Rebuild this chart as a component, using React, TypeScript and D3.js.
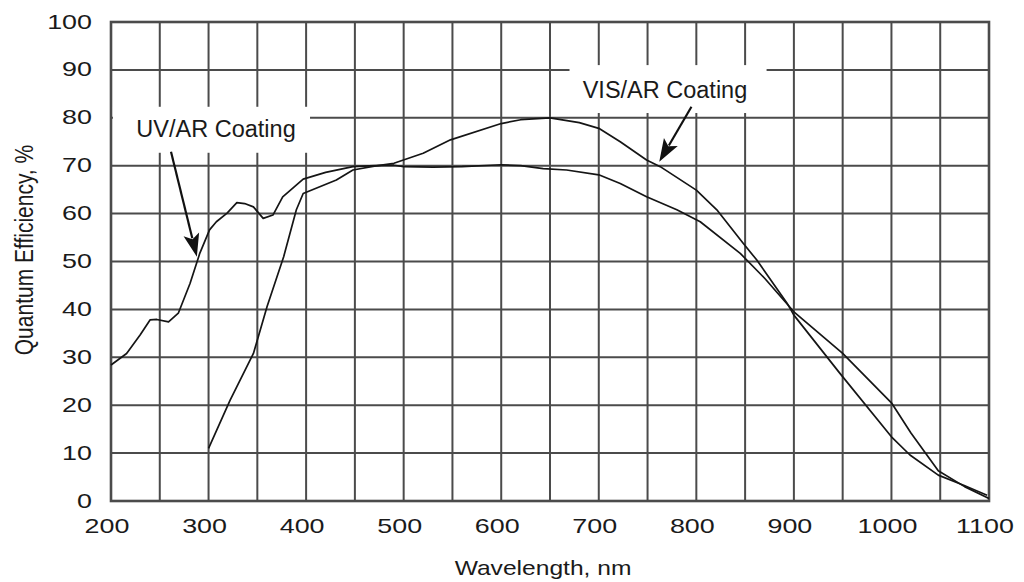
import React from "react";
import * as d3 from "d3";

// Quantum efficiency curves (wavelength in nm, QE in %)
const uvWavelength = [200, 216, 230, 240, 247, 259, 269, 281, 291, 301, 308, 319, 329, 337, 346, 356, 366, 376, 397, 420, 448, 470, 490, 500, 530, 560, 600, 620, 643, 667, 700, 722, 749, 780, 804, 845, 870, 900, 950, 1000, 1020, 1048, 1075, 1100];
const uvQE = [28.4, 30.8, 34.7, 37.8, 37.9, 37.4, 39.2, 45.4, 51.7, 56.6, 58.3, 60.1, 62.3, 62.1, 61.4, 59.0, 59.7, 63.5, 67.2, 68.6, 69.8, 70.0, 70.1, 69.8, 69.7, 69.8, 70.2, 70.0, 69.4, 69.1, 68.1, 66.3, 63.5, 60.8, 58.3, 51.7, 46.5, 39.5, 30.8, 20.5, 14.2, 6.3, 3.0, 0.5];

const visWavelength = [300, 322, 346, 360, 377, 390, 397, 431, 448, 470, 490, 520, 548, 600, 620, 650, 680, 700, 722, 749, 763, 800, 821, 848, 862, 893, 900, 947, 1000, 1019, 1048, 1074, 1098];
const visQE = [11.0, 21.0, 30.8, 40.6, 51.0, 60.8, 64.2, 67.0, 69.1, 69.9, 70.5, 72.6, 75.4, 78.8, 79.6, 80.0, 79.0, 77.8, 75.0, 71.2, 69.8, 64.9, 60.8, 53.8, 50.3, 41.3, 38.8, 26.7, 13.4, 9.6, 5.4, 3.3, 1.2];

const xTicks = [200, 300, 400, 500, 600, 700, 800, 900, 1000, 1100];
const yTicks = [0, 10, 20, 30, 40, 50, 60, 70, 80, 90, 100];
const xGrid = d3.range(200, 1101, 50);

const xTitle = "Wavelength, nm";
const yTitle = "Quantum Efficiency, %";

// Callouts: label box, text anchor and arrow, all in data units
const callouts = [
  { text: "UV/AR Coating", box: [202, 404, 72.7, 82.3], at: [226, 76.0], tail: [261.5, 72.9], tip: [288, 51.0] },
  { text: "VIS/AR Coating", box: [670, 872, 81, 91], at: [683.5, 84.1], tail: [795, 82.3], tip: [762, 70.8] },
];

const W = 1024;
const H = 582;

export default function App() {
  const x = d3.scaleLinear().domain([200, 1100]).range([111, 989]);
  const y = d3.scaleLinear().domain([0, 100]).range([501, 22]);

  const line = d3
    .line<[number, number]>()
    .x((d) => x(d[0]))
    .y((d) => y(d[1]))
    .curve(d3.curveLinear);

  const uvPath = line(uvWavelength.map((w, i) => [w, uvQE[i]]) as [number, number][]) || "";
  const visPath = line(visWavelength.map((w, i) => [w, visQE[i]]) as [number, number][]) || "";

  const gridColor = "#4b4b4b";
  const font = "'Liberation Sans', Arial, sans-serif";

  const arrow = (tail: number[], tip: number[], key: string) => {
    const x0 = x(tail[0]);
    const y0 = y(tail[1]);
    const x1 = x(tip[0]);
    const y1 = y(tip[1]);
    const dx = x1 - x0;
    const dy = y1 - y0;
    const len = Math.hypot(dx, dy);
    const ux = dx / len;
    const uy = dy / len;
    const headLen = 23;
    const half = 8;
    const bx = x1 - ux * headLen;
    const by = y1 - uy * headLen;
    const pts = [
      [x1, y1],
      [bx - uy * half, by + ux * half],
      [bx + ux * 5 , by + uy * 5],
      [bx + uy * half, by - ux * half],
    ];
    return (
      <g key={key}>
        <line x1={x0} y1={y0} x2={bx + ux * 4} y2={by + uy * 4} stroke="#111" strokeWidth={2.2} />
        <polygon points={pts.map((p) => p.join(",")).join(" ")} fill="#111" />
      </g>
    );
  };

  return (
    <svg
      width={W}
      height={H}
      viewBox={`0 0 ${W} ${H}`}
      style={{ position: "absolute", left: 0, top: 0, background: "#fff" }}
    >
      <rect x={0} y={0} width={W} height={H} fill="#fff" />

      {/* grid */}
      <g stroke={gridColor} strokeWidth={2}>
        {xGrid.map((w) => (
          <line key={`vx${w}`} x1={x(w)} x2={x(w)} y1={y(0)} y2={y(100)} />
        ))}
        {yTicks.map((v) => (
          <line key={`hy${v}`} x1={x(200)} x2={x(1100)} y1={y(v)} y2={y(v)} />
        ))}
      </g>
      <rect
        x={x(200)}
        y={y(100)}
        width={x(1100) - x(200)}
        height={y(0) - y(100)}
        fill="none"
        stroke={gridColor}
        strokeWidth={2.6}
      />

      {/* label backgrounds */}
      {callouts.map((c) => (
        <rect
          key={`bg${c.text}`}
          x={x(c.box[0])}
          y={y(c.box[3])}
          width={x(c.box[1]) - x(c.box[0])}
          height={y(c.box[2]) - y(c.box[3])}
          fill="#fff"
        />
      ))}

      {/* curves */}
      <path d={uvPath} fill="none" stroke="#151515" strokeWidth={1.7} strokeLinejoin="round" />
      <path d={visPath} fill="none" stroke="#151515" strokeWidth={1.7} strokeLinejoin="round" />

      {/* callouts */}
      {callouts.map((c) => (
        <g key={`c${c.text}`}>
          <text x={x(c.at[0])} y={y(c.at[1])} fontFamily={font} fontSize={23.5} fill="#1a1a1a">
            {c.text}
          </text>
          {arrow(c.tail, c.tip, `a${c.text}`)}
        </g>
      ))}

      {/* y tick labels */}
      {yTicks.map((v) => (
        <text
          key={`yl${v}`}
          transform={`translate(92,${y(v) + 6.5}) scale(1.28,1)`}
          textAnchor="end"
          fontFamily={font}
          fontSize={21}
          fill="#1a1a1a"
        >
          {v}
        </text>
      ))}

      {/* x tick labels */}
      {xTicks.map((w) => (
        <text
          key={`xl${w}`}
          transform={`translate(${x(w) - 4},533) scale(1.28,1)`}
          textAnchor="middle"
          fontFamily={font}
          fontSize={21}
          fill="#1a1a1a"
        >
          {w}
        </text>
      ))}

      {/* axis titles */}
      <text
        transform={`translate(543,575) scale(1.2,1)`}
        textAnchor="middle"
        fontFamily={font}
        fontSize={20.5}
        fill="#1a1a1a"
      >
        {xTitle}
      </text>
      <text
        transform={`translate(33,250) rotate(-90) scale(1,1.2)`}
        textAnchor="middle"
        fontFamily={font}
        fontSize={21}
        fill="#1a1a1a"
      >
        {yTitle}
      </text>
    </svg>
  );
}
